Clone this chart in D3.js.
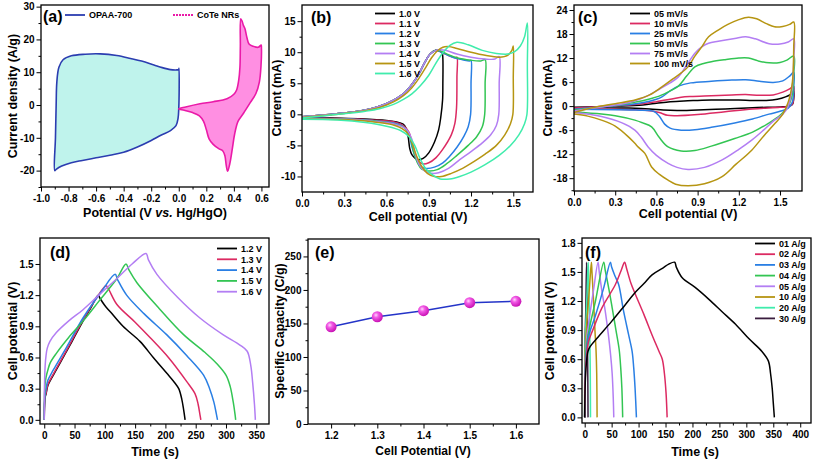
<!DOCTYPE html>
<html><head><meta charset="utf-8">
<script src="https://cdn.jsdelivr.net/npm/d3@7"></script>
<style>body{margin:0;background:#fff;} text{font-family:"Liberation Sans",Arial,sans-serif;font-weight:bold;fill:#000;}</style>
</head><body><svg id="c" width="813" height="459"></svg>
<script>
// ---------- DATA ----------
// (a) CV, Current density (A/g) vs Potential (V vs Hg/HgO)
const aSeries = ["OPAA-700", "CoTe NRs"];
const aOPAA = [[-0.9,-20],[-0.895,-10],[-0.89,0],[-0.885,7],[-0.87,11.5],[-0.84,13.8],[-0.78,15],[-0.68,15.5],[-0.57,15.6],[-0.45,15.1],[-0.35,14.2],[-0.27,13.4],[-0.18,12.2],[-0.12,11.4],[-0.06,10.8],[-0.02,10.7],[0.0,10.8],[0.002,11.2],[0.003,5],[0.0,-1],[-0.005,-4],[-0.02,-6.3],[-0.06,-7.8],[-0.13,-9.2],[-0.2,-10.8],[-0.3,-12.8],[-0.4,-14.4],[-0.5,-15.3],[-0.6,-16.1],[-0.7,-16.9],[-0.78,-17.6],[-0.85,-18.6],[-0.89,-19.6]];
const aCoTe = [[0.0,-1.2],[0.05,-0.6],[0.154,0.4],[0.25,1.0],[0.35,1.9],[0.4,3.3],[0.42,4.6],[0.435,7.5],[0.444,11.5],[0.447,18],[0.45,26.3],[0.46,25.5],[0.47,24.2],[0.48,23.3],[0.495,20.5],[0.51,18.6],[0.54,17.9],[0.577,17.6],[0.598,18.3],[0.6,17.5],[0.597,12],[0.585,7],[0.56,3.5],[0.52,0.8],[0.47,-2.5],[0.43,-5],[0.405,-9],[0.39,-13],[0.37,-18],[0.355,-20.2],[0.345,-18.5],[0.335,-15.5],[0.32,-14],[0.29,-13.3],[0.25,-12],[0.22,-10.3],[0.2,-7.5],[0.18,-5],[0.15,-3.3],[0.1,-2.3],[0.04,-1.6]];
const aXTicks = [-1.0,-0.8,-0.6,-0.4,-0.2,0.0,0.2,0.4,0.6];
const aYTicks = [-20,-10,0,10,20,30];

// (b) CV at different cell voltages, Current (mA) vs Cell potential (V)
const bSeries = ["1.0 V","1.1 V","1.2 V","1.3 V","1.4 V","1.5 V","1.6 V"];
const bUp = [[0,-0.4],[0.15,-0.1],[0.3,0.2],[0.45,0.7],[0.55,1.3],[0.65,2.3],[0.72,3.3],[0.78,4.8],[0.83,6.5],[0.87,8.3],[0.91,9.7],[0.95,10.3]];
const b10 = bUp.concat([[0.98,10.2],[0.995,9.9],[1.0,9],[1.0,5],[0.998,2.3],[0.985,-0.5],[0.97,-2.5],[0.94,-4.5],[0.9,-6.2],[0.86,-7.1],[0.83,-7.3],[0.8,-7.0],[0.78,-6.5],[0.765,-5.5],[0.755,-3.8],[0.74,-2.3],[0.72,-1.6],[0.69,-1.35],[0.6,-1.0],[0.4,-0.7],[0.2,-0.55],[0,-0.45]]);
const b11 = bUp.concat([[0.98,10.1],[1.02,9.7],[1.06,9.3],[1.09,9.1],[1.1,9.2],[1.1,6],[1.097,1],[1.085,-1.5],[1.06,-3.3],[1.0,-5.6],[0.95,-7.0],[0.9,-7.8],[0.86,-8.0],[0.83,-7.6],[0.8,-6.3],[0.78,-4.6],[0.76,-2.9],[0.72,-1.8],[0.66,-1.25],[0.5,-0.9],[0.3,-0.7],[0,-0.55]]);
const b12 = bUp.concat([[0.98,10.1],[1.03,9.6],[1.08,9.1],[1.14,8.8],[1.19,8.6],[1.2,8.7],[1.2,5],[1.197,0],[1.18,-2],[1.15,-3.5],[1.1,-5.3],[1.05,-6.7],[1.0,-7.8],[0.94,-8.5],[0.88,-8.7],[0.84,-8.4],[0.81,-7.2],[0.78,-5.2],[0.76,-3.3],[0.72,-2.0],[0.65,-1.4],[0.5,-1.0],[0.3,-0.75],[0,-0.6]]);
const b13 = bUp.concat([[0.98,10.2],[1.03,9.7],[1.1,9.1],[1.2,8.7],[1.27,8.6],[1.3,8.8],[1.3,5],[1.297,0],[1.28,-2],[1.24,-3.6],[1.18,-5.0],[1.1,-6.6],[1.03,-7.9],[0.96,-8.9],[0.9,-9.1],[0.85,-8.8],[0.82,-7.8],[0.79,-5.8],[0.77,-3.8],[0.73,-2.2],[0.65,-1.5],[0.5,-1.05],[0.3,-0.8],[0,-0.65]]);
const b14 = bUp.concat([[0.97,10.4],[1.02,10.3],[1.1,9.7],[1.2,9.2],[1.3,8.9],[1.37,8.9],[1.4,9.3],[1.4,5],[1.397,0],[1.38,-1.8],[1.34,-3.3],[1.28,-4.6],[1.2,-6.0],[1.12,-7.3],[1.04,-8.7],[0.97,-9.4],[0.92,-9.5],[0.87,-9.1],[0.83,-8.0],[0.8,-6.0],[0.78,-4.0],[0.74,-2.4],[0.66,-1.6],[0.5,-1.1],[0.3,-0.8],[0,-0.7]]);
const b15 = [[0,-0.5],[0.15,-0.2],[0.3,0.15],[0.45,0.6],[0.55,1.1],[0.65,2.0],[0.72,3.0],[0.78,4.3],[0.83,5.8],[0.88,7.6],[0.92,9.1],[0.96,10.2],[1.0,10.8],[1.04,10.9],[1.1,10.6],[1.2,10.0],[1.3,9.5],[1.4,9.2],[1.46,9.5],[1.49,10.3],[1.5,11],[1.5,6],[1.497,0],[1.48,-1.5],[1.44,-3.3],[1.38,-5.0],[1.3,-6.4],[1.22,-7.6],[1.14,-8.7],[1.06,-9.5],[0.99,-10.0],[0.94,-10.0],[0.89,-9.5],[0.85,-8.4],[0.81,-6.5],[0.78,-4.5],[0.74,-2.8],[0.66,-1.8],[0.5,-1.2],[0.3,-0.85],[0,-0.75]];
const b16 = [[0,-0.6],[0.15,-0.25],[0.3,0.1],[0.45,0.5],[0.55,0.9],[0.65,1.6],[0.72,2.4],[0.78,3.3],[0.84,4.6],[0.9,6.3],[0.95,8.2],[1.0,9.9],[1.05,11.1],[1.1,11.6],[1.18,11.2],[1.28,10.3],[1.38,9.8],[1.46,9.7],[1.51,10.1],[1.55,11],[1.58,12.5],[1.6,14.7],[1.6,8],[1.597,0],[1.58,-1.5],[1.54,-3.3],[1.48,-5.0],[1.4,-6.6],[1.3,-8.1],[1.2,-9.3],[1.12,-10.0],[1.05,-10.4],[0.98,-10.4],[0.93,-9.8],[0.88,-8.8],[0.84,-7.2],[0.8,-5.0],[0.76,-3.6],[0.7,-2.6],[0.6,-1.9],[0.45,-1.3],[0.25,-0.9],[0,-0.8]];
const bValues = [b10,b11,b12,b13,b14,b15,b16];
const bXTicks = [0.0,0.3,0.6,0.9,1.2,1.5];
const bYTicks = [-10,-5,0,5,10,15];

// (c) CV at different scan rates
const cSeries = ["05 mV/s","10 mV/s","25 mV/s","50 mV/s","75 mV/s","100 mV/s"];
const c05 = [[0,-0.3],[0.3,0],[0.5,0.3],[0.6,0.7],[0.7,1.1],[0.8,1.3],[0.9,1.4],[1.0,1.5],[1.1,1.5],[1.2,1.5],[1.3,1.4],[1.4,1.4],[1.48,1.7],[1.54,2.3],[1.58,3.0],[1.6,3.8],[1.6,2],[1.59,0.4],[1.55,-0.1],[1.5,-0.2],[1.3,-0.4],[1.1,-0.7],[0.9,-0.95],[0.75,-1.1],[0.65,-1.0],[0.55,-0.7],[0.4,-0.5],[0.2,-0.4],[0,-0.35]];
const c10 = [[0,-0.5],[0.3,0.1],[0.5,0.6],[0.6,1.1],[0.7,1.7],[0.78,2.2],[0.85,2.4],[1.0,2.6],[1.15,2.8],[1.25,2.9],[1.35,2.7],[1.45,2.8],[1.52,3.5],[1.57,4.3],[1.6,5],[1.6,3],[1.59,0.5],[1.56,-0.1],[1.5,-0.3],[1.3,-0.7],[1.1,-1.4],[0.9,-2.1],[0.75,-2.4],[0.68,-2.3],[0.62,-1.6],[0.5,-1.0],[0.3,-0.8],[0,-0.7]];
const c25 = [[0,-0.8],[0.3,0.1],[0.45,0.6],[0.55,1.2],[0.6,1.7],[0.64,2.3],[0.7,3.8],[0.76,5.0],[0.85,5.8],[1.0,6.2],[1.15,6.5],[1.25,6.6],[1.35,6.2],[1.45,5.9],[1.52,6.3],[1.57,7.5],[1.6,8.5],[1.6,5],[1.59,1],[1.56,-0.5],[1.5,-1.3],[1.42,-2.0],[1.3,-3.2],[1.17,-4.2],[1.0,-5.3],[0.88,-5.9],[0.78,-6.0],[0.7,-5.5],[0.66,-4.5],[0.62,-2.5],[0.58,-1.3],[0.45,-1.0],[0.3,-0.9],[0,-0.8]];
const c50 = [[0,-1.0],[0.2,-0.2],[0.35,0.4],[0.45,1.0],[0.55,1.8],[0.62,2.5],[0.7,3.8],[0.76,5.0],[0.82,7.5],[0.88,9.8],[0.95,10.7],[1.0,11.1],[1.1,11.6],[1.2,12.0],[1.27,12.0],[1.34,11.3],[1.42,10.8],[1.5,10.9],[1.55,11.5],[1.6,12.5],[1.6,8],[1.59,3],[1.56,0],[1.5,-2.3],[1.415,-4.3],[1.3,-6.5],[1.17,-8.1],[1.0,-10.0],[0.88,-11.1],[0.78,-11.2],[0.685,-10.2],[0.62,-7.8],[0.565,-5.2],[0.5,-4.2],[0.443,-3.5],[0.3,-2.4],[0.2,-2.0],[0,-1.5]];
const c75 = [[0,-1.2],[0.2,-0.2],[0.35,0.5],[0.45,1.4],[0.55,2.8],[0.62,4.2],[0.7,5.8],[0.76,7.3],[0.82,10.2],[0.88,13.2],[0.93,14.8],[0.98,15.7],[1.05,16.2],[1.17,16.9],[1.25,17.3],[1.32,16.8],[1.42,15.6],[1.5,15.5],[1.56,16.0],[1.6,16.8],[1.6,12],[1.59,5],[1.56,0],[1.52,-2],[1.46,-3.5],[1.38,-6.0],[1.294,-8.5],[1.2,-10.8],[1.075,-13.5],[0.95,-15.3],[0.83,-15.8],[0.75,-15.3],[0.685,-14.3],[0.6,-12.3],[0.54,-10.2],[0.49,-7.8],[0.443,-6.0],[0.35,-4.2],[0.2,-2.6],[0,-1.6]];
const c100 = [[0,-1.6],[0.15,-0.3],[0.3,0.6],[0.45,1.6],[0.55,2.8],[0.64,4.8],[0.72,6.8],[0.78,8.3],[0.83,9.8],[0.88,12.5],[0.93,14.8],[0.98,17.3],[1.05,19.0],[1.12,20.4],[1.2,21.6],[1.27,22.2],[1.33,21.8],[1.4,20.6],[1.46,19.8],[1.52,19.9],[1.57,20.4],[1.6,21],[1.6,15],[1.59,6],[1.56,1],[1.52,-2],[1.464,-4.3],[1.38,-7.5],[1.294,-11.0],[1.18,-14.5],[1.075,-17.7],[0.95,-19.4],[0.83,-19.9],[0.74,-19.5],[0.685,-18.5],[0.62,-17.0],[0.565,-15.2],[0.516,-11.8],[0.47,-10.3],[0.443,-9.3],[0.4,-7.8],[0.3,-5.0],[0.2,-3.5],[0.1,-2.5],[0,-2.0]];
const cValues = [c05,c10,c25,c50,c75,c100];
const cXTicks = [0.0,0.3,0.6,0.9,1.2,1.5];
const cYTicks = [-18,-12,-6,0,6,12,18,24];

// (d) GCD at different voltages, Cell potential (V) vs Time (s)
const dSeries = ["1.2 V","1.3 V","1.4 V","1.5 V","1.6 V"];
const d12 = [[0,0],[0.5,0.14],[1.5,0.22],[3,0.25],[6,0.33],[15,0.43],[37,0.66],[50,0.8],[64,0.95],[78,1.09],[89,1.2],[92,1.17],[100,1.1],[109,1.04],[130,0.9],[158,0.755],[180,0.6],[202,0.45],[215,0.36],[222,0.3],[227,0.2],[230,0.1],[232.5,0]];
const d13 = [[0,0],[0.5,0.15],[1.5,0.23],[3,0.26],[6,0.34],[15,0.44],[37,0.67],[64,0.96],[85,1.16],[102,1.29],[106,1.26],[120,1.11],[150,0.94],[175,0.79],[205,0.6],[235,0.37],[249,0.25],[254,0.15],[257,0.05],[258.5,0]];
const d14 = [[0,0],[0.5,0.17],[1.5,0.25],[3,0.3],[6,0.38],[15,0.48],[37,0.7],[64,0.98],[95,1.24],[117,1.4],[121,1.35],[136,1.2],[165,1.02],[202,0.82],[235,0.62],[263,0.43],[273,0.3],[280,0.17],[284,0.06],[286,0]];
const d15 = [[0,0],[0.5,0.25],[1.5,0.35],[3,0.41],[6,0.48],[10,0.55],[20,0.64],[40,0.79],[64,0.95],[90,1.14],[120,1.36],[135,1.5],[140,1.44],[153,1.32],[190,1.07],[230,0.82],[265,0.65],[285,0.54],[300,0.43],[307,0.32],[312,0.17],[315,0.05],[316,0]];
const d16 = [[0,0],[0.5,0.35],[1.5,0.52],[3,0.62],[5,0.69],[9.4,0.755],[20,0.84],[40,0.95],[64,1.06],[90,1.2],[120,1.36],[145,1.5],[168,1.6],[172,1.54],[186,1.4],[220,1.18],[257,0.98],[295,0.82],[323,0.72],[335,0.66],[341,0.52],[344,0.36],[347,0.15],[348.5,0]];
const dValues = [d12,d13,d14,d15,d16];
const dXTicks = [0,50,100,150,200,250,300,350];
const dYTicks = [0.0,0.3,0.6,0.9,1.2,1.5];

// (e) Specific capacity vs cell potential
const eCategories = [1.2,1.3,1.4,1.5,1.6];
const eValues = [145,160,169,181,183];
const eXTicks = [1.2,1.3,1.4,1.5,1.6];
const eYTicks = [0,50,100,150,200,250];

// (f) GCD at different current densities
const fSeries = ["01 A/g","02 A/g","03 A/g","04 A/g","05 A/g","10 A/g","20 A/g","30 A/g"];
const f01 = [[0,0],[1,0.35],[3,0.55],[6,0.68],[10,0.73],[25,0.83],[50,0.99],[75,1.16],[94,1.29],[110,1.38],[125,1.47],[145,1.54],[156,1.58],[167,1.6],[170,1.55],[181,1.44],[205,1.34],[230,1.22],[255,1.09],[280,0.96],[305,0.81],[329,0.68],[341,0.58],[345,0.45],[348,0.3],[350,0.15],[352,0]];
const f02 = [[0,0],[1,0.4],[3,0.6],[7,0.78],[15,0.9],[32,1.13],[57,1.37],[68,1.52],[74,1.6],[78,1.53],[86,1.38],[94,1.27],[110,1.06],[125,0.85],[138,0.68],[144,0.6],[148,0.45],[151,0.25],[153,0]];
const f03 = [[0,0],[1,0.45],[3,0.66],[8,0.85],[20,1.05],[35,1.33],[47.7,1.6],[50,1.55],[56,1.46],[63,1.37],[72,1.1],[81.6,0.85],[88,0.68],[91,0.51],[93.5,0.3],[96,0]];
const f04 = [[0,0],[1,0.5],[3,0.72],[8,0.9],[20,1.2],[35.3,1.6],[38,1.52],[45,1.32],[51,1.13],[58,0.9],[64,0.7],[67,0.5],[69,0.3],[70.5,0]];
const f05 = [[0,0],[1,0.55],[3,0.78],[8,1.0],[16,1.3],[24.8,1.6],[27,1.5],[32,1.3],[38,1.1],[44,0.85],[48,0.65],[51,0.45],[53,0.2],[54,0]];
const f10 = [[0,0],[0.5,0.6],[2,0.8],[5,1.05],[9,1.35],[12.4,1.6],[13.5,1.5],[16,1.25],[19,0.9],[21,0.7],[22.3,0.45],[23,0]];
const f20 = [[0,0],[0.5,0.7],[2,0.95],[4.5,1.3],[6.5,1.6],[7.2,1.45],[8.3,1.15],[9.5,0.8],[10.3,0.5],[10.8,0]];
const f30 = [[0,0],[0.5,0.75],[2,1.1],[3.5,1.6],[4,1.4],[5,0.9],[5.8,0.4],[6.2,0]];
const fValues = [f01,f02,f03,f04,f05,f10,f20,f30];
const fXTicks = [0,50,100,150,200,250,300,350,400];
const fYTicks = [0.0,0.3,0.6,0.9,1.2,1.5,1.8];

// ---------- STYLE ----------
const C7 = ["#000000","#dc2a62","#2a7fe4","#33c553","#b37ef3","#b69512","#40ecac"];
const C6 = C7.slice(0,6);
const C5 = C7.slice(0,5);
const C8 = C7.concat(["#3a1d3e"]);

const svg = d3.select("#c");
const FF = '"Liberation Sans", Arial, sans-serif';
const hy = s => s.replace("\u2212","-");
const f1 = d => hy(d3.format(".1f")(d));
const f0 = d => hy(d3.format("d")(d));
function mids(a){const r=[];for(let i=0;i<a.length-1;i++)r.push((a[i]+a[i+1])/2);return r;}

function panel(P){
  const x = d3.scaleLinear().domain(P.xd).range([P.l,P.r]);
  const y = d3.scaleLinear().domain(P.yd).range([P.b,P.t]);
  const g = svg.append("g");
  const clean = s => { s.select(".domain").remove(); s.attr("font-family",FF).attr("font-size",10).attr("font-weight","bold"); s.selectAll("line").attr("stroke","#000"); s.selectAll("text").attr("fill","#000"); };
  g.append("g").attr("transform",`translate(0,${P.b})`).call(d3.axisBottom(x).tickValues(P.xmin).tickSize(2.5).tickFormat("")).call(clean);
  g.append("g").attr("transform",`translate(0,${P.b})`).call(d3.axisBottom(x).tickValues(P.xmaj).tickSize(4.5).tickPadding(3).tickFormat(P.xf)).call(clean);
  g.append("g").attr("transform",`translate(${P.l},0)`).call(d3.axisLeft(y).tickValues(P.ymin).tickSize(2.5).tickFormat("")).call(clean);
  g.append("g").attr("transform",`translate(${P.l},0)`).call(d3.axisLeft(y).tickValues(P.ymaj).tickSize(4.5).tickPadding(2).tickFormat(P.yf)).call(clean);
  const plot = svg.append("g");
  const top = svg.append("g");
  top.append("rect").attr("x",P.l).attr("y",P.t).attr("width",P.r-P.l).attr("height",P.b-P.t).attr("fill","none").attr("stroke","#000").attr("stroke-width",1.3);
  svg.append("text").attr("x",P.xlx).attr("y",P.xly).attr("text-anchor","middle").attr("font-size",P.xfs||12.5).attr("font-family",FF).html(P.xl);
  svg.append("text").attr("transform",`translate(${P.ylx},${P.yly}) rotate(-90)`).attr("text-anchor","middle").attr("dominant-baseline","central").attr("font-size",12.5).attr("font-family",FF).text(P.yl);
  svg.append("text").attr("x",P.plx).attr("y",P.ply).attr("font-size",16).attr("font-family",FF).text(P.pl);
  return {x,y,plot,top};
}
function legend(items, colors, xs, ys, dash){
  const g = svg.append("g");
  items.forEach((t,i)=>{
    const x0 = xs[i], yy = ys[i];
    g.append("line").attr("x1",x0).attr("x2",x0+20).attr("y1",yy).attr("y2",yy).attr("stroke",colors[i]).attr("stroke-width",1.8).attr("stroke-dasharray",dash&&dash[i]?dash[i]:null);
    g.append("text").attr("x",x0+24).attr("y",yy+3.2).attr("font-size",9).attr("font-family",FF).text(t);
  });
}
const col = (n,x0,y0,dy) => [d3.range(n).map(()=>x0), d3.range(n).map(i=>y0+i*dy)];
const smooth = d3.curveCatmullRom.alpha(0.5);

// ---------- (a) ----------
{
  const P = panel({l:41,t:5,r:269,b:187,xd:[-1.0,0.655],yd:[-25,30.5],
    xmaj:aXTicks,xmin:mids(aXTicks),ymaj:aYTicks,ymin:[-25].concat(mids(aYTicks)),
    xf:f1,yf:f0,xl:'Potential (V <tspan font-style="italic">vs.</tspan> Hg/HgO)',xlx:155,xly:217,
    yl:"Current density (A/g)",ylx:13,yly:96,pl:"(a)",plx:43,ply:22});
  const line = d3.line().x(d=>P.x(d[0])).y(d=>P.y(d[1])).curve(d3.curveCatmullRomClosed.alpha(0.5));
  P.plot.append("path").attr("d",line(aOPAA)).attr("fill","#bff3ec").attr("stroke","#2b3db0").attr("stroke-width",1.6);
  P.plot.append("path").attr("d",line(aCoTe)).attr("fill","#ff8fe2").attr("stroke","#ea1aa8").attr("stroke-width",1.6);
  legend(aSeries,["#2b3db0","#ea1aa8"],[65,173],[15,15],[null,"2,1"]);
}
// ---------- (b) ----------
{
  const P = panel({l:302,t:5,r:533,b:192,xd:[0,1.64],yd:[-12.5,17.6],
    xmaj:bXTicks,xmin:mids(bXTicks),ymaj:bYTicks,ymin:mids(bYTicks),
    xf:f1,yf:f0,xl:"Cell potential (V)",xlx:418,xly:221,
    yl:"Current (mA)",ylx:277,yly:98,pl:"(b)",plx:311,ply:23});
  const line = d3.line().x(d=>P.x(d[0])).y(d=>P.y(d[1])).curve(smooth);
  bValues.forEach((s,i)=>P.plot.append("path").attr("d",line(s)).attr("fill","none").attr("stroke",C7[i]).attr("stroke-width",1.5));
  const [xs,ys] = col(7,375,13.5,10); legend(bSeries,C7,xs,ys);
}
// ---------- (c) ----------
{
  const P = panel({l:574,t:5,r:802,b:191,xd:[0,1.66],yd:[-21.2,25.25],
    xmaj:cXTicks,xmin:mids(cXTicks),ymaj:cYTicks,ymin:[-21].concat(mids(cYTicks)),
    xf:f1,yf:f0,xl:"Cell potential (V)",xlx:688,xly:218,
    yl:"Current (mA)",ylx:548,yly:98,pl:"(c)",plx:578,ply:23});
  const line = d3.line().x(d=>P.x(d[0])).y(d=>P.y(d[1])).curve(smooth);
  cValues.forEach((s,i)=>P.plot.append("path").attr("d",line(s)).attr("fill","none").attr("stroke",C6[i]).attr("stroke-width",1.5));
  const [xs,ys] = col(6,630,13.5,10); legend(cSeries,C6,xs,ys);
}
// ---------- (d) ----------
{
  const P = panel({l:40,t:238,r:269,b:424,xd:[-7,371],yd:[-0.04,1.75],
    xmaj:dXTicks,xmin:mids(dXTicks),ymaj:dYTicks,ymin:mids(dYTicks),
    xf:f0,yf:f1,xl:"Time (s)",xlx:155,xly:456,
    yl:"Cell potential (V)",ylx:13,yly:331,pl:"(d)",plx:50,ply:258});
  const line = d3.line().x(d=>P.x(d[0])).y(d=>P.y(d[1])).curve(smooth);
  dValues.forEach((s,i)=>P.plot.append("path").attr("d",line(s)).attr("fill","none").attr("stroke",C5[i]).attr("stroke-width",1.5));
  const [xs,ys] = col(5,217,248.5,10.8); legend(dSeries,C5,xs,ys);
}
// ---------- (e) ----------
{
  const P = panel({l:308,t:239,r:539,b:424,xd:[1.15,1.65],yd:[0,276],
    xmaj:eXTicks,xmin:mids(eXTicks),ymaj:eYTicks,ymin:mids(eYTicks).concat([275]),
    xf:f1,yf:f0,xl:"Cell Potential (V)",xlx:423,xly:455,xfs:12,
    yl:"Specific Capacity (C/g)",ylx:280,yly:331,pl:"(e)",plx:315,ply:258});
  const pts = eCategories.map((c,i)=>[c,eValues[i]]);
  const line = d3.line().x(d=>P.x(d[0])).y(d=>P.y(d[1]));
  const defs = svg.append("defs");
  const gr = defs.append("radialGradient").attr("id","sph").attr("cx","38%").attr("cy","35%").attr("r","65%");
  gr.append("stop").attr("offset","0%").attr("stop-color","#ffd6fb");
  gr.append("stop").attr("offset","35%").attr("stop-color","#f25be6");
  gr.append("stop").attr("offset","100%").attr("stop-color","#c812b4");
  P.plot.append("path").attr("d",line(pts)).attr("fill","none").attr("stroke","#2434c8").attr("stroke-width",1.5);
  P.plot.selectAll("circle").data(pts).join("circle").attr("cx",d=>P.x(d[0])).attr("cy",d=>P.y(d[1])).attr("r",5.5).attr("fill","url(#sph)");
}
// ---------- (f) ----------
{
  const P = panel({l:582,t:238,r:811,b:423,xd:[-5,420],yd:[-0.058,1.85],
    xmaj:fXTicks,xmin:mids(fXTicks),ymaj:fYTicks,ymin:mids(fYTicks),
    xf:f0,yf:f1,xl:"Time (s)",xlx:695,xly:456,
    yl:"Cell potential (V)",ylx:550,yly:331,pl:"(f)",plx:585,ply:258});
  const line = d3.line().x(d=>P.x(d[0])).y(d=>P.y(d[1])).curve(smooth);
  fValues.slice().reverse().forEach((s,j)=>{const i=fValues.length-1-j; P.plot.append("path").attr("d",line(s)).attr("fill","none").attr("stroke",C8[i]).attr("stroke-width",1.5);});
  const [xs,ys] = col(8,755,243.5,10.7); legend(fSeries,C8,xs,ys);
}
</script>
</body></html>
